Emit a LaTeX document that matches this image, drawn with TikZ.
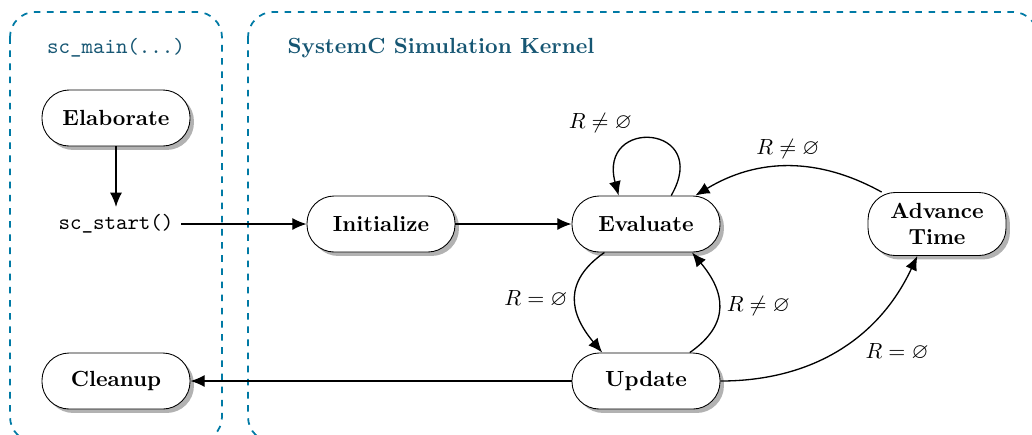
\documentclass[tikz,border=0pt]{standalone}
\usepackage{amssymb}
\usetikzlibrary{arrows.meta,shadows}
\definecolor{regionblue}{RGB}{0,122,165}
\definecolor{titleblue}{RGB}{22,86,115}
\tikzset{
	state/.style={draw, fill=white, rounded corners=12.5pt, minimum width=67.6pt, minimum height=25.6pt,
		font=\bfseries, align=center,
		drop shadow={shadow xshift=1.8pt, shadow yshift=-1.8pt, fill=black!30, opacity=1}},
	trans/.style={-{Latex[length=6.5pt,width=5.5pt]}, semithick},
	region/.style={draw=regionblue, dashed, thick, rounded corners=11.5pt},
}

\begin{document}
\begin{tikzpicture}[x=0.4566pt, y=0.4566pt]
			%%%%% START %%%%%
			\useasboundingbox (0,0) rectangle (1032,-434);
			
			\draw[region] (10,-12) rectangle (222,-442);
			\draw[region] (248,-12) rectangle (1038,-442);
			\node[text=titleblue, font=\ttfamily] (mainlabel) at (116,-48) {sc\_main(...)};
			\node[text=titleblue, font=\bfseries, anchor=west] (kernellabel) at (280,-48) {SystemC Simulation Kernel};
			
			\node[state] (elaborate) at (116,-118) {Elaborate};
			\node[font=\ttfamily] (start) at (116,-224) {sc\_start()};
			\node[state] (cleanup) at (116,-381) {Cleanup};
			
			\node[state] (initialize) at (381,-224) {Initialize};
			\node[state] (evaluate) at (646,-224) {Evaluate};
			\node[state] (update) at (646,-381) {Update};
			\node[state, minimum width=63pt, minimum height=28.8pt, inner sep=2pt] (advance) at (937,-224) {Advance\\Time};
			
			\draw[trans] (elaborate) -- (start);
			\draw[trans] (start) -- (initialize);
			\draw[trans] (initialize) -- (evaluate);
			
			\draw[trans] ([xshift=11.5pt]evaluate.north) to[out=60, in=105, looseness=4]
				node[above left, pos=0.6] (loopcond) {$R \neq \varnothing$} ([xshift=-12.5pt]evaluate.north);
			\draw[trans] (advance.150) to[bend right=30]
				node[above] (timecond) {$R \neq \varnothing$} (evaluate.30);
			\draw[trans] ([xshift=-19pt]evaluate.south) to[out=215, in=130, looseness=1.3]
				node[left] (emptycond) {$R = \varnothing$} ([xshift=-20pt]update.north);
			\draw[trans] ([xshift=20pt]update.north) to[out=35, in=-50, looseness=1.3]
				node[right] (fullcond) {$R \neq \varnothing$} ([xshift=21pt]evaluate.south);
			\draw[trans] (update.east) to[out=0, in=-115]
				node[below right, pos=0.6] (advcond) {$R = \varnothing$} ([xshift=-9pt]advance.south);
			\draw[trans] (update) -- (cleanup);
			
			%%%%% END %%%%%
\end{tikzpicture}
\end{document}
